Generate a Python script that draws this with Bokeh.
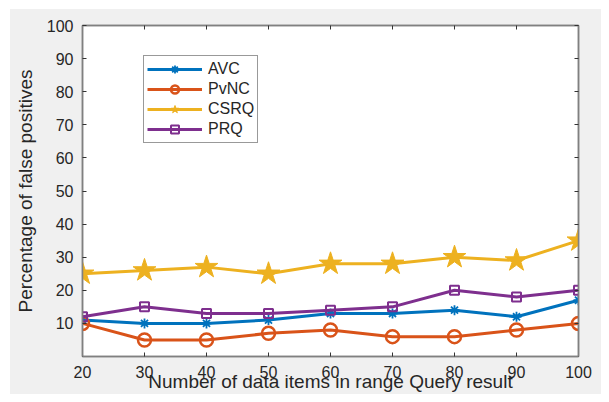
from bokeh.plotting import figure
from bokeh.models import Range1d, FixedTicker, LinearAxis, Legend, LegendItem
from bokeh.embed import file_html
from bokeh.resources import INLINE

x_items = [20, 30, 40, 50, 60, 70, 80, 90, 100]
avc = [11, 10, 10, 11, 13, 13, 14, 12, 17]
pvnc = [10, 5, 5, 7, 8, 6, 6, 8, 10]
csrq = [25, 26, 27, 25, 28, 28, 30, 29, 35]
prq = [12, 15, 13, 13, 14, 15, 20, 18, 20]
y_ticks = [10, 20, 30, 40, 50, 60, 70, 80, 90, 100]
x_ticks = [20, 30, 40, 50, 60, 70, 80, 90, 100]
x_title = "Number of data items in range Query result"
y_title = "Percentage of false positives"

FONT = "Liberation Sans"
AXC = "#808080"
TICKC = "#333333"
TXT = "#262626"

p = figure(width=601, height=394, output_backend="svg", toolbar_location=None,
           x_range=Range1d(20, 100), y_range=Range1d(0, 100))
p.min_border_left = 82
p.min_border_right = 23
p.min_border_top = 25
p.min_border_bottom = 38
p.border_fill_color = None
p.styles = {"background": "linear-gradient(to right, white 10px, transparent 10px), "
                          "linear-gradient(to bottom, white 9px, #f0f0f0 9px)"}
p.background_fill_color = "white"
p.outline_line_color = AXC
p.outline_line_width = 1.5
p.xgrid.visible = False
p.ygrid.visible = False

for ax in (p.xaxis[0], p.yaxis[0]):
    ax.axis_line_color = AXC
    ax.axis_line_width = 1.5
    ax.major_tick_line_color = TICKC
    ax.major_tick_in = 4
    ax.major_tick_out = 0
    ax.minor_tick_line_color = None
    ax.major_label_text_font = FONT
    ax.major_label_text_font_size = "16px"
    ax.major_label_text_color = TXT
    ax.axis_label_text_font = FONT
    ax.axis_label_text_font_size = "19px"
    ax.axis_label_text_font_style = "normal"
    ax.axis_label_text_color = TXT

p.xaxis.ticker = FixedTicker(ticks=x_ticks)
p.yaxis.ticker = FixedTicker(ticks=y_ticks)
p.xaxis.axis_label = x_title
p.yaxis.axis_label = y_title
p.xaxis.major_label_standoff = 9
p.xaxis.axis_label_standoff = -10
p.yaxis.major_label_standoff = 9
p.yaxis.axis_label_standoff = 8

for loc, ticks in (("right", y_ticks), ("above", x_ticks)):
    ax = LinearAxis(ticker=FixedTicker(ticks=ticks), major_label_text_font_size="8px",
                    major_label_text_color=None, axis_line_color=AXC, axis_line_width=1.5,
                    major_tick_line_color=TICKC, major_tick_in=4, major_tick_out=0,
                    minor_tick_line_color=None, major_label_standoff=0)
    p.add_layout(ax, loc)

BLUE, ORANGE, YELLOW, PURPLE = "#0072BD", "#D95319", "#EDB120", "#7E2F8E"
LW = 3

l1 = p.line(x_items, avc, line_color=BLUE, line_width=LW)
m1 = p.scatter(x_items, avc, marker="asterisk", size=10, line_color=BLUE, line_width=1.8)
l2 = p.line(x_items, pvnc, line_color=ORANGE, line_width=LW)
m2 = p.scatter(x_items, pvnc, marker="circle", size=13, line_color=ORANGE, line_width=2.5,
               fill_color=None)
l3 = p.line(x_items, csrq, line_color=YELLOW, line_width=LW)
m3 = p.scatter(x_items, csrq, marker="star", size=24, line_color=YELLOW, fill_color=YELLOW)
l4 = p.line(x_items, prq, line_color=PURPLE, line_width=LW)
m4 = p.scatter(x_items, prq, marker="square", size=9, line_color=PURPLE, line_width=2,
               fill_color=None)

legend = Legend(items=[
    LegendItem(label="AVC", renderers=[l1, m1]),
    LegendItem(label="PvNC", renderers=[l2, m2]),
    LegendItem(label="CSRQ", renderers=[l3, m3]),
    LegendItem(label="PRQ", renderers=[l4, m4]),
], location=(61, 213))
legend.label_text_font = FONT
legend.label_text_font_size = "16px"
legend.label_text_color = TXT
legend.glyph_width = 55
legend.glyph_height = 20
legend.label_height = 20
legend.label_standoff = 6
legend.spacing = 0
legend.padding = 3
legend.margin = 0
legend.border_line_color = "#333333"
legend.border_line_width = 1
legend.background_fill_color = "white"
legend.background_fill_alpha = 1
p.add_layout(legend, "center")

open("out.html", "w").write(file_html(p, INLINE))
